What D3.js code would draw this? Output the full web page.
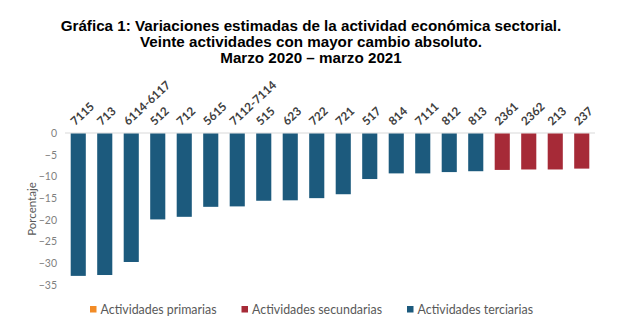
<!DOCTYPE html>
<html>
<head>
<meta charset="utf-8">
<script src="https://cdn.jsdelivr.net/npm/d3@7"></script>
<style>
  html, body { margin: 0; padding: 0; background: #fff; }
  svg { display: block; }
</style>
</head>
<body>
<svg id="chart" width="623" height="332"></svg>
<script>
const titleLines = [
  "Gráfica 1: Variaciones estimadas de la actividad económica sectorial.",
  "Veinte actividades con mayor cambio absoluto.",
  "Marzo 2020 – marzo 2021"
];
const categories = ["7115","713","6114-6117","512","712","5615","7112-7114","515","623","722","721","517","814","7111","812","813","2361","2362","213","237"];
const values = [-32.9,-32.7,-29.7,-19.9,-19.3,-17.0,-16.9,-15.6,-15.5,-15.0,-14.1,-10.6,-9.3,-9.3,-9.0,-8.8,-8.5,-8.4,-8.4,-8.2];
const sectors = ["terciarias","terciarias","terciarias","terciarias","terciarias","terciarias","terciarias","terciarias","terciarias","terciarias","terciarias","terciarias","terciarias","terciarias","terciarias","terciarias","secundarias","secundarias","secundarias","secundarias"];
const yTicks = [0,-5,-10,-15,-20,-25,-30,-35];
const legendKeys = ["primarias","secundarias","terciarias"];
const legendLabels = ["Actividades primarias","Actividades secundarias","Actividades terciarias"];
const sectorColors = {primarias: "#f28b26", secundarias: "#a62a37", terciarias: "#1c5a7d"};

const svg = d3.select("#chart");

// Title
svg.append("g").selectAll("text").data(titleLines).join("text")
  .attr("x", 311).attr("y", (d, i) => 30.5 + i * 16.3)
  .attr("text-anchor", "middle")
  .style("font-family", "'Liberation Sans', Arial, sans-serif")
  .style("font-weight", "bold").style("font-size", "15.2px").style("fill", "#000")
  .text(d => d);

const x = d3.scaleBand().domain(categories).range([65, 595]).paddingInner(0.43).paddingOuter(0.215);
const y = d3.scaleLinear().domain([-35, 0]).range([285, 133]);

// Y axis labels
const yAxis = svg.append("g").attr("transform", "translate(57,0)")
  .call(d3.axisLeft(y).tickValues(yTicks).tickSize(0).tickPadding(0).tickFormat(d3.format("d")));
yAxis.select(".domain").remove();
yAxis.selectAll("text")
  .style("font-family", "Lato, 'Open Sans', sans-serif").style("font-size", "10.5px").style("fill", "#7f7f7f");

// Zero line
svg.append("line").attr("x1", 65).attr("x2", 595).attr("y1", y(0)).attr("y2", y(0))
  .attr("stroke", "#d9d9d9").attr("stroke-width", 1);

// Bars
svg.append("g").selectAll("rect").data(values).join("rect")
  .attr("x", (d, i) => x(categories[i]))
  .attr("width", x.bandwidth())
  .attr("y", y(0) + 0.5)
  .attr("height", d => y(d) - y(0) - 0.5)
  .attr("fill", (d, i) => sectorColors[sectors[i]]);

// Category labels
svg.append("g").selectAll("text").data(categories).join("text")
  .attr("transform", d => `translate(${x(d) + x.bandwidth() / 2 - 3},126) rotate(-43)`)
  .style("font-family", "Lato, 'Open Sans', sans-serif")
  .style("font-weight", "bold").style("font-size", "11.7px").style("fill", "#404040")
  .text(d => d);

// Axis title
svg.append("text").attr("transform", "translate(36,209) rotate(-90)")
  .attr("text-anchor", "middle")
  .style("font-family", "Lato, 'Open Sans', sans-serif").style("font-size", "11.5px").style("fill", "#595959")
  .text("Porcentaje");

// Legend
const legendX = [90, 241.5, 407];
const lg = svg.append("g").selectAll("g").data(legendKeys).join("g")
  .attr("transform", (d, i) => `translate(${legendX[i]},306)`);
lg.append("rect").attr("width", 6.5).attr("height", 6.5).attr("fill", d => sectorColors[d]);
lg.append("text").attr("x", 10.5).attr("y", 7.5)
  .style("font-family", "Lato, 'Open Sans', sans-serif").style("font-size", "12.4px").style("fill", "#595959")
  .text((d, i) => legendLabels[i]);
</script>
</body>
</html>
